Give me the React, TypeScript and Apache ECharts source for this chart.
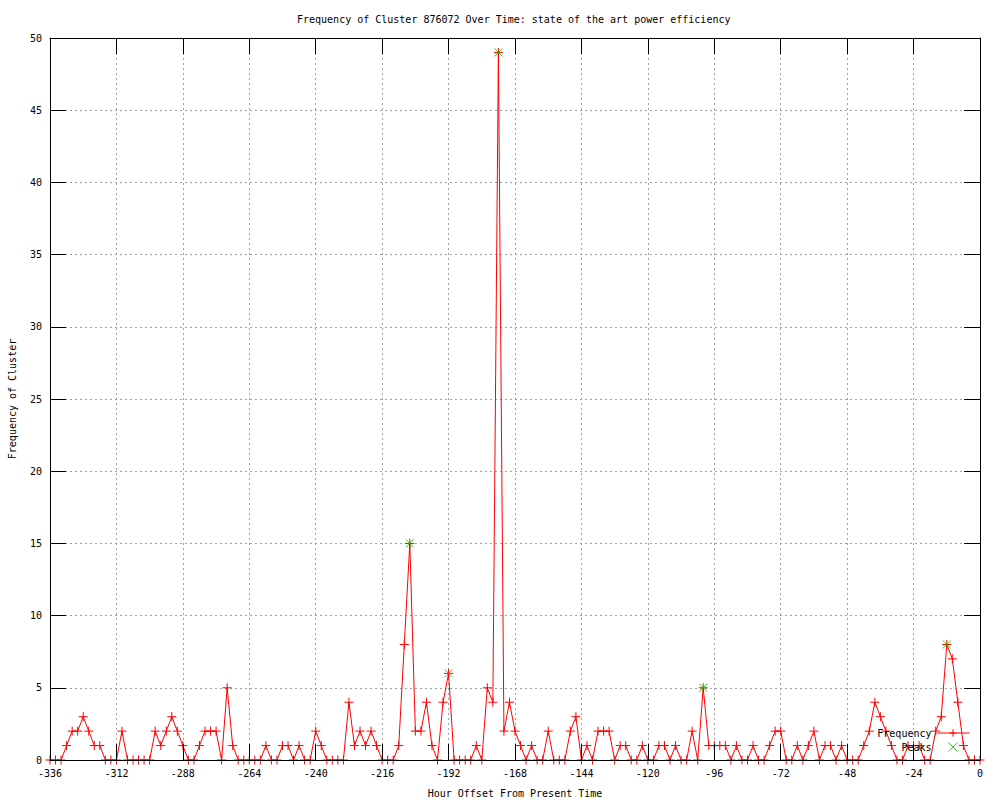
import React, { useEffect, useRef } from "react";
import * as echarts from "echarts";

const TITLE = "Frequency of Cluster 876072 Over Time: state of the art power efficiency";
const X_NAME = "Hour Offset From Present Time";
const Y_NAME = "Frequency of Cluster";

const hours = [
  -336, -334, -332, -330, -328, -326, -324, -322, -320, -318, -316, -314,
  -312, -310, -308, -306, -304, -302, -300, -298, -296, -294, -292, -290,
  -288, -286, -284, -282, -280, -278, -276, -274, -272, -270, -268, -266,
  -264, -262, -260, -258, -256, -254, -252, -250, -248, -246, -244, -242,
  -240, -238, -236, -234, -232, -230, -228, -226, -224, -222, -220, -218,
  -216, -214, -212, -210, -208, -206, -204, -202, -200, -198, -196, -194,
  -192, -190, -188, -186, -184, -182, -180, -178, -176, -174, -172, -170,
  -168, -166, -164, -162, -160, -158, -156, -154, -152, -150, -148, -146,
  -144, -142, -140, -138, -136, -134, -132, -130, -128, -126, -124, -122,
  -120, -118, -116, -114, -112, -110, -108, -106, -104, -102, -100, -98,
  -96, -94, -92, -90, -88, -86, -84, -82, -80, -78, -76, -74,
  -72, -70, -68, -66, -64, -62, -60, -58, -56, -54, -52, -50,
  -48, -46, -44, -42, -40, -38, -36, -34, -32, -30, -28, -26,
  -24, -22, -20, -18, -16, -14, -12, -10, -8, -6, -4, -2,
  0,
];

const frequency = [
  0, 0, 0, 1, 2, 2, 3, 2, 1, 1, 0, 0,
  0, 2, 0, 0, 0, 0, 0, 2, 1, 2, 3, 2,
  1, 0, 0, 1, 2, 2, 2, 0, 5, 1, 0, 0,
  0, 0, 0, 1, 0, 0, 1, 1, 0, 1, 0, 0,
  2, 1, 0, 0, 0, 0, 4, 1, 2, 1, 2, 1,
  0, 0, 0, 1, 8, 15, 2, 2, 4, 1, 0, 4,
  6, 0, 0, 0, 0, 1, 0, 5, 4, 49, 2, 4,
  2, 1, 0, 1, 0, 0, 2, 0, 0, 0, 2, 3,
  0, 1, 0, 2, 2, 2, 0, 1, 1, 0, 0, 1,
  0, 0, 1, 1, 0, 1, 0, 0, 2, 0, 5, 1,
  1, 1, 1, 0, 1, 0, 0, 1, 0, 0, 1, 2,
  2, 0, 0, 1, 0, 1, 2, 0, 1, 1, 0, 1,
  0, 0, 0, 1, 2, 4, 3, 2, 1, 0, 0, 1,
  1, 1, 0, 0, 2, 3, 8, 7, 4, 1, 0, 0,
  0,
];

const peakHours = [-206, -192, -174, -100, -12];
const peakValues = [15, 6, 49, 5, 8];

const FONT = "DejaVu Sans Mono";
const PLUS = "path://M0,5L10,5M5,0L5,10";
const CROSS = "path://M0,0L10,10M10,0L0,10";

export default function App() {
  const ref = useRef<HTMLDivElement>(null);

  useEffect(() => {
    if (!ref.current) return;
    const chart = echarts.init(ref.current, undefined, { renderer: "svg" });
    const freqData = hours.map((h, i) => [h, frequency[i]]);
    const peakData = peakHours.map((h, i) => [h, peakValues[i]]);
    const tickStyle = { show: true, inside: true, length: 16, lineStyle: { color: "#000", width: 1 } };
    const gridLine = { show: true, lineStyle: { color: "#a0a0a0", type: [2, 3] as any, width: 1 } };
    chart.setOption({
      animation: false,
      backgroundColor: "#fff",
      title: {
        text: TITLE,
        left: 292,
        top: 9,
        textStyle: { fontFamily: FONT, fontSize: 10, fontWeight: "normal", color: "#000" },
      },
      grid: { left: 50, right: 20, top: 38, bottom: 40, containLabel: false, outerBoundsMode: "none" },
      legend: {
        orient: "vertical",
        right: 30,
        top: 728,
        padding: 0,
        align: "right",
        itemWidth: 33,
        itemHeight: 9,
        itemGap: 4,
        lineStyle: { width: 1 },
        itemStyle: { borderWidth: 1 },
        textStyle: { fontFamily: FONT, fontSize: 10, color: "#000" },
        data: [
          { name: "Frequency" },
          { name: "Peaks" },
        ],
      },
      xAxis: [
        {
          type: "value",
          min: -336,
          max: 0,
          interval: 24,
          position: "bottom",
          z: 3,
          name: X_NAME,
          nameLocation: "middle",
          nameGap: 28,
          nameTextStyle: { fontFamily: FONT, fontSize: 10, color: "#000" },
          axisLine: { show: true, onZero: false, lineStyle: { color: "#000", width: 1 } },
          axisTick: tickStyle,
          axisLabel: { show: true, margin: 8, fontFamily: FONT, fontSize: 10, color: "#000" },
          splitLine: { show: false },
        },
        {
          type: "value",
          min: -336,
          max: 0,
          interval: 24,
          position: "top",
          axisLine: { show: true, onZero: false, lineStyle: { color: "#000", width: 1 } },
          axisTick: tickStyle,
          axisLabel: { show: false },
          splitLine: gridLine,
        },
      ],
      yAxis: [
        {
          type: "value",
          min: 0,
          max: 50,
          interval: 5,
          position: "left",
          name: Y_NAME,
          nameLocation: "middle",
          nameGap: 33,
          nameTextStyle: { fontFamily: FONT, fontSize: 10, color: "#000" },
          axisLine: { show: true, onZero: false, lineStyle: { color: "#000", width: 1 } },
          axisTick: tickStyle,
          axisLabel: { show: true, margin: 8, fontFamily: FONT, fontSize: 10, color: "#000" },
          splitLine: gridLine,
        },
        {
          type: "value",
          min: 0,
          max: 50,
          interval: 5,
          position: "right",
          axisLine: { show: true, onZero: false, lineStyle: { color: "#000", width: 1 } },
          axisTick: tickStyle,
          axisLabel: { show: false },
          splitLine: { show: false },
        },
      ],
      series: [
        {
          name: "Frequency",
          type: "line",
          xAxisIndex: 0,
          yAxisIndex: 0,
          data: freqData,
          symbol: PLUS,
          symbolSize: 9,
          showAllSymbol: true,
          clip: false,
          lineStyle: { color: "#ff0000", width: 1 },
          itemStyle: { color: "#ff0000", borderColor: "#ff0000", borderWidth: 1 },
          z: 2,
        },
        {
          name: "Peaks",
          type: "scatter",
          xAxisIndex: 0,
          yAxisIndex: 0,
          data: peakData,
          symbol: CROSS,
          symbolSize: 8,
          itemStyle: { color: "#00c000", borderColor: "#00c000", borderWidth: 1 },
          z: 3,
        },
      ],
    });
    return () => chart.dispose();
  }, []);

  return (
    <div style={{ position: "fixed", left: 0, top: 0, width: 1000, height: 800, background: "#fff" }}>
      <div ref={ref} style={{ width: 1000, height: 800 }} />
    </div>
  );
}
